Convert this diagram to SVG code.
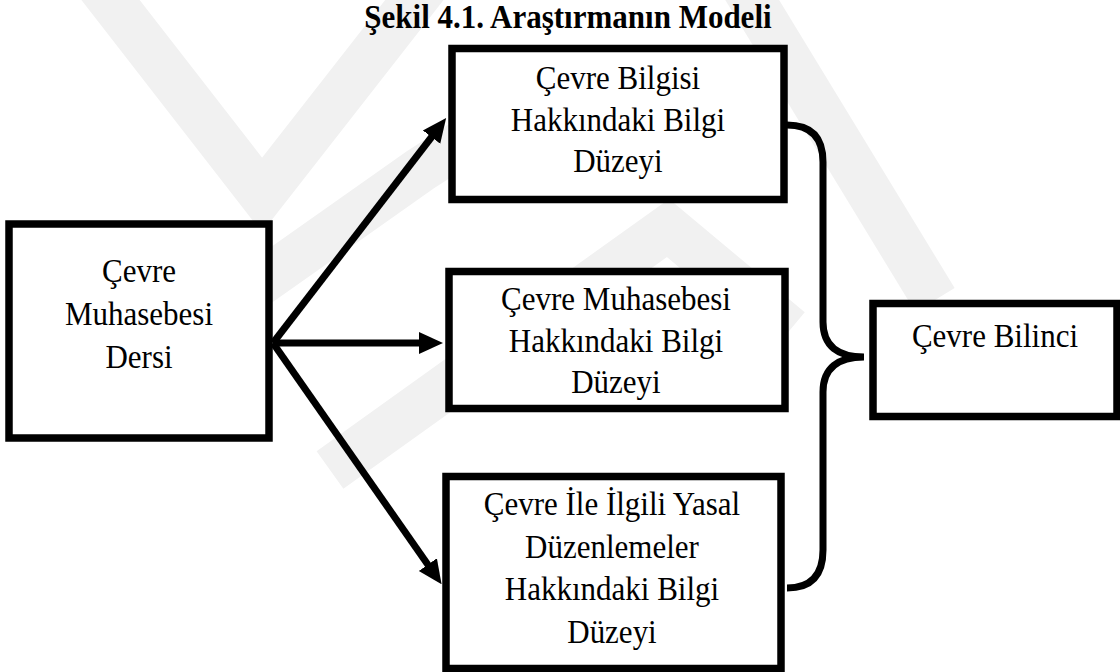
<svg xmlns="http://www.w3.org/2000/svg" width="1120" height="672" viewBox="0 0 1120 672">
  <style>
    .box { fill: #ffffff; stroke: #000000; stroke-width: 7.5; }
    .lbl { font-family: "Liberation Serif", "Times New Roman", serif; font-size: 31px; fill: #000000; text-anchor: middle;
           transform-box: fill-box; transform-origin: 50% 80%; transform: scaleY(1.08); }
    .title { font-family: "Liberation Serif", "Times New Roman", serif; font-size: 31px; font-weight: bold; fill: #000000; text-anchor: middle;
             transform-box: fill-box; transform-origin: 50% 80%; transform: scaleY(1.06); }
    .wire { fill: none; stroke: #000000; stroke-width: 7; }
    .mark { fill: none; stroke: #f1f1f1; stroke-width: 46; stroke-linejoin: miter; }
  </style>
  <defs>
    <marker id="head" markerUnits="userSpaceOnUse" markerWidth="24" markerHeight="24" refX="9" refY="12" orient="auto">
      <path d="M0,1 L24,12 L0,23 Z" fill="#000000"/>
    </marker>
  </defs>

  <rect width="1120" height="672" fill="#ffffff"/>

  <!-- faint background emblem -->
  <g id="emblem">
    <polyline class="mark" points="95,-20 262,195 430,-20"/>
    <polyline class="mark" points="250,290 420,170 560,80"/>
    <polyline class="mark" points="330,470 668,228 790,330"/>
    <line class="mark" x1="740" y1="-20" x2="935" y2="300" stroke-width="40"/>
  </g>

  <text class="title" x="568" y="28">Şekil 4.1. Araştırmanın Modeli</text>

  <g id="connectors">
    <line class="wire" x1="273" y1="343" x2="437" y2="130" marker-end="url(#head)"/>
    <line class="wire" x1="273" y1="343" x2="428" y2="343" marker-end="url(#head)"/>
    <line class="wire" x1="273" y1="343" x2="433" y2="572" marker-end="url(#head)"/>
    <path id="brace" class="wire" d="M787,125 Q823,125 823,162 L823,322 C823,346 838,357 864,357 C838,357 823,368 823,392 L823,550 Q823,588 787,588"/>
  </g>

  <g id="node-ders">
    <rect class="box" x="9" y="224" width="260" height="214"/>
    <text class="lbl" x="139" y="282">Çevre</text>
    <text class="lbl" x="139" y="325">Muhasebesi</text>
    <text class="lbl" x="139" y="368">Dersi</text>
  </g>

  <g id="node-bilgi">
    <rect class="box" x="452" y="48.5" width="332" height="151"/>
    <text class="lbl" x="618" y="89">Çevre Bilgisi</text>
    <text class="lbl" x="618" y="131">Hakkındaki Bilgi</text>
    <text class="lbl" x="618" y="172">Düzeyi</text>
  </g>

  <g id="node-muhasebe">
    <rect class="box" x="449" y="271.5" width="336" height="137"/>
    <text class="lbl" x="616" y="310">Çevre Muhasebesi</text>
    <text class="lbl" x="616" y="352">Hakkındaki Bilgi</text>
    <text class="lbl" x="616" y="393">Düzeyi</text>
  </g>

  <g id="node-yasal">
    <rect class="box" x="446" y="476.5" width="335" height="192"/>
    <text class="lbl" x="612" y="515">Çevre İle İlgili Yasal</text>
    <text class="lbl" x="612" y="558">Düzenlemeler</text>
    <text class="lbl" x="612" y="600">Hakkındaki Bilgi</text>
    <text class="lbl" x="612" y="643">Düzeyi</text>
  </g>

  <g id="node-bilinc">
    <rect class="box" x="873" y="303.5" width="244" height="113"/>
    <text class="lbl" x="995" y="347">Çevre Bilinci</text>
  </g>
</svg>
